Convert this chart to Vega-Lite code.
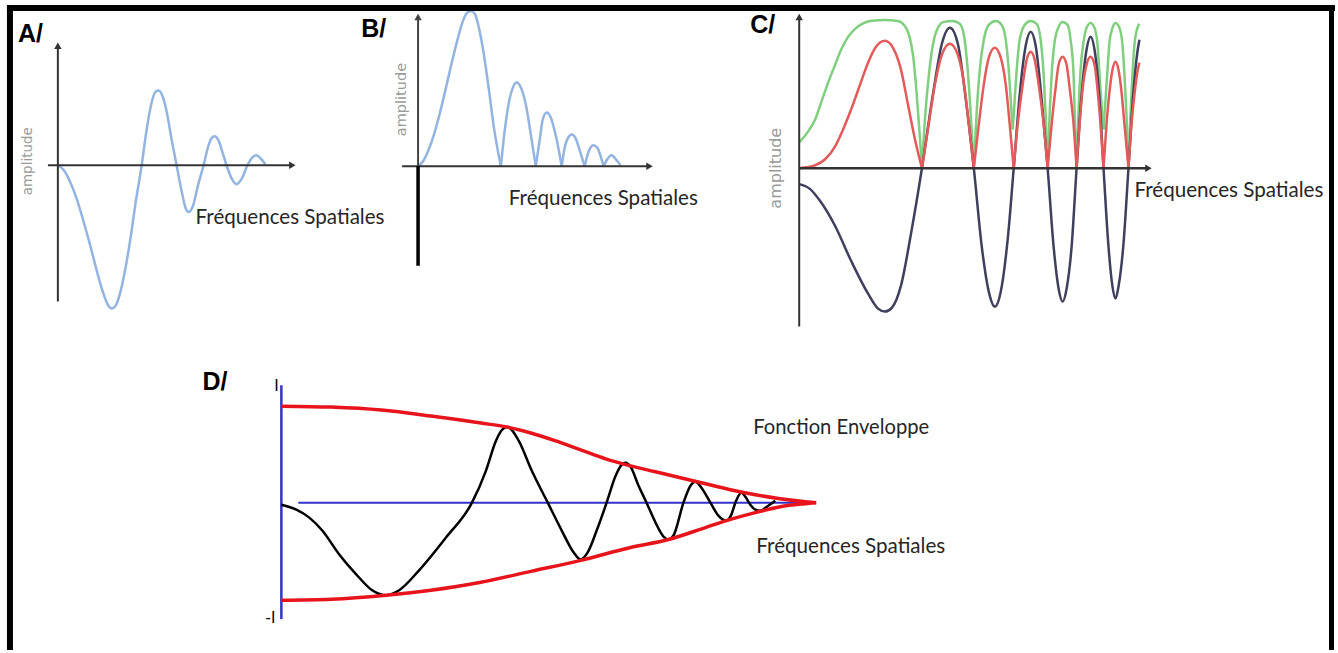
{
  "$schema": "https://vega.github.io/schema/vega-lite/v6.json",
  "width": 1338,
  "height": 653,
  "autosize": {"type": "fit", "contains": "padding"},
  "padding": 0,
  "background": "white",
  "config": {"view": {"stroke": null}},
  "resolve": {"scale": {"x": "independent", "y": "independent"}},
  "layer": [
    {
      "layer": [
        {
          "data": {"values": [
            {"x":0,"y":0},{"x":0.3,"y":-0.05},{"x":0.6,"y":-0.16},{"x":0.95,"y":-0.34},{"x":1.25,"y":-0.54},{"x":1.6,"y":-0.79},{"x":1.95,"y":-1.06},{"x":2.25,"y":-1.27},{"x":2.5,"y":-1.4},{"x":2.7,"y":-1.44},{"x":2.9,"y":-1.41},{"x":3.15,"y":-1.26},{"x":3.4,"y":-1.02},{"x":3.65,"y":-0.72},{"x":3.9,"y":-0.37},{"x":4.2,"y":0},{"x":4.45,"y":0.36},{"x":4.7,"y":0.63},{"x":4.9,"y":0.74},{"x":5.05,"y":0.75},{"x":5.25,"y":0.69},{"x":5.45,"y":0.54},{"x":5.7,"y":0.26},{"x":5.95,"y":0},{"x":6.2,"y":-0.26},{"x":6.4,"y":-0.43},{"x":6.55,"y":-0.47},{"x":6.75,"y":-0.42},{"x":7.0,"y":-0.22},{"x":7.3,"y":0},{"x":7.55,"y":0.2},{"x":7.7,"y":0.27},{"x":7.85,"y":0.29},{"x":8.05,"y":0.25},{"x":8.25,"y":0.13},{"x":8.45,"y":0},{"x":8.7,"y":-0.13},{"x":8.95,"y":-0.19},{"x":9.2,"y":-0.14},{"x":9.5,"y":0},{"x":9.75,"y":0.08},{"x":9.95,"y":0.1},{"x":10.15,"y":0.07},{"x":10.4,"y":0.01}
          ]},
          "mark": {"type": "line", "interpolate": "monotone", "color": "#93b3e0", "strokeWidth": 2.5},
          "encoding": {
            "x": {"field": "x", "type": "quantitative", "scale": {"domain": [-2.9, 64.0]}, "axis": null},
            "y": {"field": "y", "type": "quantitative", "scale": {"domain": [-4.87, 1.66]}, "axis": null}
          }
        },
        {
          "data": {"values": [{}]},
          "mark": {"type": "rule", "color": "#333333", "strokeWidth": 2},
          "encoding": {
            "x": {"datum": -0.5, "type": "quantitative", "scale": {"domain": [-2.9, 64.0]}, "axis": null},
            "x2": {"datum": 11.75},
            "y": {"datum": 0, "type": "quantitative", "scale": {"domain": [-4.87, 1.66]}, "axis": null}
          }
        },
        {
          "data": {"values": [{}]},
          "mark": {"type": "rule", "color": "#333333", "strokeWidth": 2},
          "encoding": {
            "x": {"datum": 0, "type": "quantitative", "scale": {"domain": [-2.9, 64.0]}, "axis": null},
            "y": {"datum": -1.37, "type": "quantitative", "scale": {"domain": [-4.87, 1.66]}, "axis": null},
            "y2": {"datum": 1.2}
          }
        },
        {
          "data": {"values": [{}]},
          "mark": {"type": "point", "shape": "triangle-right", "filled": true, "size": 55, "color": "#333333", "opacity": 1},
          "encoding": {
            "x": {"datum": 11.75, "type": "quantitative", "scale": {"domain": [-2.9, 64.0]}, "axis": null},
            "y": {"datum": 0, "type": "quantitative", "scale": {"domain": [-4.87, 1.66]}, "axis": null}
          }
        },
        {
          "data": {"values": [{}]},
          "mark": {"type": "point", "shape": "triangle-up", "filled": true, "size": 55, "color": "#333333", "opacity": 1},
          "encoding": {
            "x": {"datum": 0, "type": "quantitative", "scale": {"domain": [-2.9, 64.0]}, "axis": null},
            "y": {"datum": 1.2, "type": "quantitative", "scale": {"domain": [-4.87, 1.66]}, "axis": null}
          }
        },
        {
          "data": {"values": [{}]},
          "mark": {"type": "text", "text": "A/", "font": "Liberation Sans", "fontWeight": "bold", "fontSize": 25, "align": "left", "baseline": "alphabetic", "color": "#000000"},
          "encoding": {
            "x": {"datum": -2.0, "type": "quantitative", "scale": {"domain": [-2.9, 64.0]}, "axis": null},
            "y": {"datum": 1.24, "type": "quantitative", "scale": {"domain": [-4.87, 1.66]}, "axis": null}
          }
        },
        {
          "data": {"values": [{}]},
          "mark": {"type": "text", "text": "amplitude", "font": "DejaVu Sans", "fontSize": 13.5, "angle": 270, "align": "center", "baseline": "middle", "color": "#9a9a9a"},
          "encoding": {
            "x": {"datum": -1.5, "type": "quantitative", "scale": {"domain": [-2.9, 64.0]}, "axis": null},
            "y": {"datum": 0.04, "type": "quantitative", "scale": {"domain": [-4.87, 1.66]}, "axis": null}
          }
        },
        {
          "data": {"values": [{}]},
          "mark": {"type": "text", "text": "Fréquences Spatiales", "font": "Lato", "fontSize": 20.6, "align": "left", "baseline": "middle", "color": "#262626"},
          "encoding": {
            "x": {"datum": 6.9, "type": "quantitative", "scale": {"domain": [-2.9, 64.0]}, "axis": null},
            "y": {"datum": -0.53, "type": "quantitative", "scale": {"domain": [-4.87, 1.66]}, "axis": null}
          }
        }
      ]
    },
    {
      "layer": [
        {
          "data": {"values": [
            {"seg":1,"x":0,"y":0},{"seg":1,"x":0.25,"y":0.05},{"seg":1,"x":0.5,"y":0.15},{"seg":1,"x":0.8,"y":0.32},{"seg":1,"x":1.1,"y":0.54},{"seg":1,"x":1.4,"y":0.79},{"seg":1,"x":1.7,"y":1.05},{"seg":1,"x":2.0,"y":1.29},{"seg":1,"x":2.25,"y":1.46},{"seg":1,"x":2.45,"y":1.54},{"seg":1,"x":2.65,"y":1.56},{"seg":1,"x":2.85,"y":1.53},{"seg":1,"x":3.05,"y":1.39},{"seg":1,"x":3.3,"y":1.12},{"seg":1,"x":3.55,"y":0.77},{"seg":1,"x":3.8,"y":0.39},{"seg":1,"x":4.15,"y":0},
            {"seg":2,"x":4.15,"y":0},{"seg":2,"x":4.35,"y":0.37},{"seg":2,"x":4.55,"y":0.64},{"seg":2,"x":4.75,"y":0.79},{"seg":2,"x":4.95,"y":0.84},{"seg":2,"x":5.15,"y":0.79},{"seg":2,"x":5.4,"y":0.62},{"seg":2,"x":5.65,"y":0.32},{"seg":2,"x":5.9,"y":0},
            {"seg":3,"x":5.9,"y":0},{"seg":3,"x":6.1,"y":0.27},{"seg":3,"x":6.25,"y":0.47},{"seg":3,"x":6.45,"y":0.54},{"seg":3,"x":6.65,"y":0.49},{"seg":3,"x":6.9,"y":0.31},{"seg":3,"x":7.2,"y":0},
            {"seg":4,"x":7.2,"y":0},{"seg":4,"x":7.35,"y":0.19},{"seg":4,"x":7.5,"y":0.28},{"seg":4,"x":7.7,"y":0.32},{"seg":4,"x":7.9,"y":0.28},{"seg":4,"x":8.1,"y":0.16},{"seg":4,"x":8.35,"y":0},
            {"seg":5,"x":8.35,"y":0},{"seg":5,"x":8.5,"y":0.12},{"seg":5,"x":8.65,"y":0.19},{"seg":5,"x":8.8,"y":0.21},{"seg":5,"x":9.0,"y":0.18},{"seg":5,"x":9.15,"y":0.1},{"seg":5,"x":9.3,"y":0},
            {"seg":6,"x":9.3,"y":0},{"seg":6,"x":9.45,"y":0.06},{"seg":6,"x":9.7,"y":0.11},{"seg":6,"x":9.95,"y":0.06},{"seg":6,"x":10.15,"y":0.01}
          ]},
          "mark": {"type": "line", "interpolate": "monotone", "color": "#93b3e0", "strokeWidth": 2.5},
          "encoding": {
            "x": {"field": "x", "type": "quantitative", "scale": {"domain": [-20.95, 45.95]}, "axis": null},
            "y": {"field": "y", "type": "quantitative", "scale": {"domain": [-4.86, 1.67]}, "axis": null},
            "detail": {"field": "seg", "type": "nominal"}
          }
        },
        {
          "data": {"values": [{}]},
          "mark": {"type": "rule", "color": "#333333", "strokeWidth": 2},
          "encoding": {
            "x": {"datum": -0.8, "type": "quantitative", "scale": {"domain": [-20.95, 45.95]}, "axis": null},
            "x2": {"datum": 11.6},
            "y": {"datum": 0, "type": "quantitative", "scale": {"domain": [-4.86, 1.67]}, "axis": null}
          }
        },
        {
          "data": {"values": [{}]},
          "mark": {"type": "rule", "color": "#444444", "strokeWidth": 2},
          "encoding": {
            "x": {"datum": 0, "type": "quantitative", "scale": {"domain": [-20.95, 45.95]}, "axis": null},
            "y": {"datum": 0, "type": "quantitative", "scale": {"domain": [-4.86, 1.67]}, "axis": null},
            "y2": {"datum": 1.5}
          }
        },
        {
          "data": {"values": [{}]},
          "mark": {"type": "rule", "color": "#000000", "strokeWidth": 3.5},
          "encoding": {
            "x": {"datum": 0, "type": "quantitative", "scale": {"domain": [-20.95, 45.95]}, "axis": null},
            "y": {"datum": -1.0, "type": "quantitative", "scale": {"domain": [-4.86, 1.67]}, "axis": null},
            "y2": {"datum": 0}
          }
        },
        {
          "data": {"values": [{}]},
          "mark": {"type": "point", "shape": "triangle-right", "filled": true, "size": 55, "color": "#333333", "opacity": 1},
          "encoding": {
            "x": {"datum": 11.6, "type": "quantitative", "scale": {"domain": [-20.95, 45.95]}, "axis": null},
            "y": {"datum": 0, "type": "quantitative", "scale": {"domain": [-4.86, 1.67]}, "axis": null}
          }
        },
        {
          "data": {"values": [{}]},
          "mark": {"type": "point", "shape": "triangle-up", "filled": true, "size": 55, "color": "#444444", "opacity": 1},
          "encoding": {
            "x": {"datum": 0, "type": "quantitative", "scale": {"domain": [-20.95, 45.95]}, "axis": null},
            "y": {"datum": 1.5, "type": "quantitative", "scale": {"domain": [-4.86, 1.67]}, "axis": null}
          }
        },
        {
          "data": {"values": [{}]},
          "mark": {"type": "text", "text": "B/", "font": "Liberation Sans", "fontWeight": "bold", "fontSize": 25, "align": "left", "baseline": "alphabetic", "color": "#000000"},
          "encoding": {
            "x": {"datum": -2.85, "type": "quantitative", "scale": {"domain": [-20.95, 45.95]}, "axis": null},
            "y": {"datum": 1.3, "type": "quantitative", "scale": {"domain": [-4.86, 1.67]}, "axis": null}
          }
        },
        {
          "data": {"values": [{}]},
          "mark": {"type": "text", "text": "amplitude", "font": "DejaVu Sans", "fontSize": 14.5, "angle": 270, "align": "center", "baseline": "middle", "color": "#9a9a9a"},
          "encoding": {
            "x": {"datum": -0.8, "type": "quantitative", "scale": {"domain": [-20.95, 45.95]}, "axis": null},
            "y": {"datum": 0.67, "type": "quantitative", "scale": {"domain": [-4.86, 1.67]}, "axis": null}
          }
        },
        {
          "data": {"values": [{}]},
          "mark": {"type": "text", "text": "Fréquences Spatiales", "font": "Lato", "fontSize": 20.6, "align": "left", "baseline": "middle", "color": "#262626"},
          "encoding": {
            "x": {"datum": 4.55, "type": "quantitative", "scale": {"domain": [-20.95, 45.95]}, "axis": null},
            "y": {"datum": -0.33, "type": "quantitative", "scale": {"domain": [-4.86, 1.67]}, "axis": null}
          }
        }
      ]
    },
    {
      "layer": [
        {
          "data": {"values": [
            {"seg":1,"x":0,"y":0.26},{"seg":1,"x":0.45,"y":0.37},{"seg":1,"x":0.8,"y":0.49},{"seg":1,"x":1.15,"y":0.69},{"seg":1,"x":1.45,"y":0.86},{"seg":1,"x":1.8,"y":1.04},{"seg":1,"x":2.1,"y":1.19},{"seg":1,"x":2.45,"y":1.32},{"seg":1,"x":2.8,"y":1.4},{"seg":1,"x":3.15,"y":1.45},{"seg":1,"x":3.55,"y":1.48},{"seg":1,"x":4.3,"y":1.49},{"seg":1,"x":4.95,"y":1.48},{"seg":1,"x":5.25,"y":1.44},{"seg":1,"x":5.5,"y":1.34},{"seg":1,"x":5.7,"y":1.14},{"seg":1,"x":5.85,"y":0.84},{"seg":1,"x":6.0,"y":0.44},{"seg":1,"x":6.15,"y":0.02},
            {"seg":2,"x":6.15,"y":0.02},{"seg":2,"x":6.3,"y":0.49},{"seg":2,"x":6.5,"y":0.94},{"seg":2,"x":6.7,"y":1.24},{"seg":2,"x":6.95,"y":1.41},{"seg":2,"x":7.25,"y":1.47},{"seg":2,"x":7.7,"y":1.48},{"seg":2,"x":8.05,"y":1.45},{"seg":2,"x":8.25,"y":1.34},{"seg":2,"x":8.4,"y":1.09},{"seg":2,"x":8.55,"y":0.69},{"seg":2,"x":8.75,"y":0.02},
            {"seg":3,"x":8.75,"y":0.02},{"seg":3,"x":8.9,"y":0.59},{"seg":3,"x":9.05,"y":0.99},{"seg":3,"x":9.25,"y":1.29},{"seg":3,"x":9.5,"y":1.44},{"seg":3,"x":9.85,"y":1.48},{"seg":3,"x":10.15,"y":1.44},{"seg":3,"x":10.35,"y":1.29},{"seg":3,"x":10.5,"y":0.99},{"seg":3,"x":10.6,"y":0.69},{"seg":3,"x":10.7,"y":0.39},
            {"seg":4,"x":10.7,"y":0.39},{"seg":4,"x":10.8,"y":0.69},{"seg":4,"x":10.9,"y":0.99},{"seg":4,"x":11.05,"y":1.29},{"seg":4,"x":11.3,"y":1.44},{"seg":4,"x":11.6,"y":1.48},{"seg":4,"x":11.9,"y":1.45},{"seg":4,"x":12.1,"y":1.29},{"seg":4,"x":12.25,"y":0.94},{"seg":4,"x":12.35,"y":0.54},{"seg":4,"x":12.45,"y":0.02},
            {"seg":5,"x":12.45,"y":0.02},{"seg":5,"x":12.55,"y":0.54},{"seg":5,"x":12.65,"y":0.94},{"seg":5,"x":12.8,"y":1.27},{"seg":5,"x":13.0,"y":1.42},{"seg":5,"x":13.2,"y":1.47},{"seg":5,"x":13.45,"y":1.44},{"seg":5,"x":13.6,"y":1.29},{"seg":5,"x":13.75,"y":0.94},{"seg":5,"x":13.8,"y":0.59},{"seg":5,"x":13.9,"y":0.02},
            {"seg":6,"x":13.9,"y":0.02},{"seg":6,"x":14.0,"y":0.59},{"seg":6,"x":14.1,"y":0.99},{"seg":6,"x":14.25,"y":1.27},{"seg":6,"x":14.4,"y":1.41},{"seg":6,"x":14.6,"y":1.46},{"seg":6,"x":14.8,"y":1.41},{"seg":6,"x":14.95,"y":1.24},{"seg":6,"x":15.05,"y":0.94},{"seg":6,"x":15.15,"y":0.64},{"seg":6,"x":15.25,"y":0.39},
            {"seg":7,"x":15.25,"y":0.39},{"seg":7,"x":15.35,"y":0.69},{"seg":7,"x":15.45,"y":0.99},{"seg":7,"x":15.55,"y":1.27},{"seg":7,"x":15.7,"y":1.41},{"seg":7,"x":15.85,"y":1.46},{"seg":7,"x":16.05,"y":1.41},{"seg":7,"x":16.2,"y":1.24},{"seg":7,"x":16.3,"y":0.94},{"seg":7,"x":16.4,"y":0.54},{"seg":7,"x":16.5,"y":0.02},
            {"seg":8,"x":16.5,"y":0.02},{"seg":8,"x":16.6,"y":0.54},{"seg":8,"x":16.7,"y":0.94},{"seg":8,"x":16.8,"y":1.24},{"seg":8,"x":16.95,"y":1.41},{"seg":8,"x":17.05,"y":1.45}
          ]},
          "mark": {"type": "line", "interpolate": "monotone", "color": "#7fcf7f", "strokeWidth": 2.5},
          "encoding": {
            "x": {"field": "x", "type": "quantitative", "scale": {"domain": [-40.05, 26.85]}, "axis": null},
            "y": {"field": "y", "type": "quantitative", "scale": {"domain": [-4.84, 1.69]}, "axis": null},
            "detail": {"field": "seg", "type": "nominal"}
          }
        },
        {
          "data": {"values": [
            {"x":0,"y":-0.16},{"x":0.55,"y":-0.21},{"x":1.05,"y":-0.33},{"x":1.8,"y":-0.58},{"x":2.6,"y":-0.93},{"x":3.45,"y":-1.26},{"x":3.95,"y":-1.41},{"x":4.3,"y":-1.44},{"x":4.65,"y":-1.4},{"x":5.1,"y":-1.18},{"x":5.6,"y":-0.66},{"x":6.15,"y":0},{"x":6.7,"y":0.74},{"x":7.15,"y":1.25},{"x":7.55,"y":1.41},{"x":7.95,"y":1.25},{"x":8.35,"y":0.69},{"x":8.75,"y":0},{"x":9.15,"y":-0.79},{"x":9.5,"y":-1.24},{"x":9.8,"y":-1.39},{"x":10.1,"y":-1.24},{"x":10.45,"y":-0.71},{"x":10.75,"y":0},{"x":11.05,"y":0.74},{"x":11.35,"y":1.23},{"x":11.6,"y":1.37},{"x":11.85,"y":1.23},{"x":12.15,"y":0.69},{"x":12.45,"y":0},{"x":12.75,"y":-0.79},{"x":13.0,"y":-1.21},{"x":13.2,"y":-1.34},{"x":13.4,"y":-1.21},{"x":13.65,"y":-0.79},{"x":13.9,"y":0},{"x":14.15,"y":0.74},{"x":14.4,"y":1.19},{"x":14.6,"y":1.32},{"x":14.8,"y":1.19},{"x":15.05,"y":0.69},{"x":15.25,"y":0},{"x":15.5,"y":-0.79},{"x":15.7,"y":-1.19},{"x":15.85,"y":-1.31},{"x":16.0,"y":-1.19},{"x":16.25,"y":-0.76},{"x":16.5,"y":0},{"x":16.75,"y":0.77},{"x":16.95,"y":1.17},{"x":17.05,"y":1.29}
          ]},
          "mark": {"type": "line", "interpolate": "monotone", "color": "#3f3f5e", "strokeWidth": 2.5},
          "encoding": {
            "x": {"field": "x", "type": "quantitative", "scale": {"domain": [-40.05, 26.85]}, "axis": null},
            "y": {"field": "y", "type": "quantitative", "scale": {"domain": [-4.84, 1.69]}, "axis": null}
          }
        },
        {
          "data": {"values": [
            {"seg":1,"x":0,"y":0},{"seg":1,"x":0.8,"y":0.03},{"seg":1,"x":1.3,"y":0.09},{"seg":1,"x":1.8,"y":0.22},{"seg":1,"x":2.2,"y":0.39},{"seg":1,"x":2.6,"y":0.59},{"seg":1,"x":3.05,"y":0.84},{"seg":1,"x":3.45,"y":1.06},{"seg":1,"x":3.85,"y":1.22},{"seg":1,"x":4.3,"y":1.28},{"seg":1,"x":4.7,"y":1.21},{"seg":1,"x":5.1,"y":0.99},{"seg":1,"x":5.45,"y":0.64},{"seg":1,"x":5.8,"y":0.29},{"seg":1,"x":6.15,"y":0},
            {"seg":2,"x":6.15,"y":0},{"seg":2,"x":6.45,"y":0.39},{"seg":2,"x":6.8,"y":0.84},{"seg":2,"x":7.15,"y":1.14},{"seg":2,"x":7.55,"y":1.25},{"seg":2,"x":7.95,"y":1.14},{"seg":2,"x":8.3,"y":0.79},{"seg":2,"x":8.5,"y":0.44},{"seg":2,"x":8.75,"y":0},
            {"seg":3,"x":8.75,"y":0},{"seg":3,"x":9.0,"y":0.44},{"seg":3,"x":9.25,"y":0.84},{"seg":3,"x":9.5,"y":1.11},{"seg":3,"x":9.8,"y":1.21},{"seg":3,"x":10.1,"y":1.11},{"seg":3,"x":10.35,"y":0.84},{"seg":3,"x":10.55,"y":0.44},{"seg":3,"x":10.75,"y":0},
            {"seg":4,"x":10.75,"y":0},{"seg":4,"x":10.95,"y":0.44},{"seg":4,"x":11.2,"y":0.84},{"seg":4,"x":11.4,"y":1.09},{"seg":4,"x":11.6,"y":1.17},{"seg":4,"x":11.8,"y":1.09},{"seg":4,"x":12.0,"y":0.84},{"seg":4,"x":12.25,"y":0.44},{"seg":4,"x":12.45,"y":0},
            {"seg":5,"x":12.45,"y":0},{"seg":5,"x":12.65,"y":0.44},{"seg":5,"x":12.85,"y":0.81},{"seg":5,"x":13.0,"y":1.04},{"seg":5,"x":13.2,"y":1.12},{"seg":5,"x":13.4,"y":1.04},{"seg":5,"x":13.55,"y":0.81},{"seg":5,"x":13.75,"y":0.44},{"seg":5,"x":13.9,"y":0},
            {"seg":6,"x":13.9,"y":0},{"seg":6,"x":14.05,"y":0.44},{"seg":6,"x":14.2,"y":0.79},{"seg":6,"x":14.4,"y":1.04},{"seg":6,"x":14.6,"y":1.12},{"seg":6,"x":14.8,"y":1.04},{"seg":6,"x":14.95,"y":0.79},{"seg":6,"x":15.1,"y":0.44},{"seg":6,"x":15.25,"y":0},
            {"seg":7,"x":15.25,"y":0},{"seg":7,"x":15.4,"y":0.44},{"seg":7,"x":15.55,"y":0.77},{"seg":7,"x":15.7,"y":0.99},{"seg":7,"x":15.85,"y":1.07},{"seg":7,"x":16.0,"y":0.99},{"seg":7,"x":16.15,"y":0.77},{"seg":7,"x":16.3,"y":0.44},{"seg":7,"x":16.5,"y":0},
            {"seg":8,"x":16.5,"y":0},{"seg":8,"x":16.65,"y":0.44},{"seg":8,"x":16.8,"y":0.74},{"seg":8,"x":16.95,"y":0.97},{"seg":8,"x":17.05,"y":1.06}
          ]},
          "mark": {"type": "line", "interpolate": "monotone", "color": "#e25a5a", "strokeWidth": 2.5},
          "encoding": {
            "x": {"field": "x", "type": "quantitative", "scale": {"domain": [-40.05, 26.85]}, "axis": null},
            "y": {"field": "y", "type": "quantitative", "scale": {"domain": [-4.84, 1.69]}, "axis": null},
            "detail": {"field": "seg", "type": "nominal"}
          }
        },
        {
          "data": {"values": [{}]},
          "mark": {"type": "rule", "color": "#333333", "strokeWidth": 2.5},
          "encoding": {
            "x": {"datum": 0, "type": "quantitative", "scale": {"domain": [-40.05, 26.85]}, "axis": null},
            "x2": {"datum": 17.5},
            "y": {"datum": 0, "type": "quantitative", "scale": {"domain": [-4.84, 1.69]}, "axis": null}
          }
        },
        {
          "data": {"values": [{}]},
          "mark": {"type": "rule", "color": "#333333", "strokeWidth": 2},
          "encoding": {
            "x": {"datum": 0, "type": "quantitative", "scale": {"domain": [-40.05, 26.85]}, "axis": null},
            "y": {"datum": -1.59, "type": "quantitative", "scale": {"domain": [-4.84, 1.69]}, "axis": null},
            "y2": {"datum": 1.52}
          }
        },
        {
          "data": {"values": [{}]},
          "mark": {"type": "point", "shape": "triangle-right", "filled": true, "size": 55, "color": "#333333", "opacity": 1},
          "encoding": {
            "x": {"datum": 17.5, "type": "quantitative", "scale": {"domain": [-40.05, 26.85]}, "axis": null},
            "y": {"datum": 0, "type": "quantitative", "scale": {"domain": [-4.84, 1.69]}, "axis": null}
          }
        },
        {
          "data": {"values": [{}]},
          "mark": {"type": "point", "shape": "triangle-up", "filled": true, "size": 55, "color": "#333333", "opacity": 1},
          "encoding": {
            "x": {"datum": 0, "type": "quantitative", "scale": {"domain": [-40.05, 26.85]}, "axis": null},
            "y": {"datum": 1.52, "type": "quantitative", "scale": {"domain": [-4.84, 1.69]}, "axis": null}
          }
        },
        {
          "data": {"values": [{}]},
          "mark": {"type": "text", "text": "C/", "font": "Liberation Sans", "fontWeight": "bold", "fontSize": 25, "align": "left", "baseline": "alphabetic", "color": "#000000"},
          "encoding": {
            "x": {"datum": -2.45, "type": "quantitative", "scale": {"domain": [-40.05, 26.85]}, "axis": null},
            "y": {"datum": 1.36, "type": "quantitative", "scale": {"domain": [-4.84, 1.69]}, "axis": null}
          }
        },
        {
          "data": {"values": [{}]},
          "mark": {"type": "text", "text": "amplitude", "font": "DejaVu Sans", "fontSize": 16, "angle": 270, "align": "center", "baseline": "middle", "color": "#9a9a9a"},
          "encoding": {
            "x": {"datum": -1.15, "type": "quantitative", "scale": {"domain": [-40.05, 26.85]}, "axis": null},
            "y": {"datum": 0, "type": "quantitative", "scale": {"domain": [-4.84, 1.69]}, "axis": null}
          }
        },
        {
          "data": {"values": [{}]},
          "mark": {"type": "text", "text": "Fréquences Spatiales", "font": "Lato", "fontSize": 20.6, "align": "left", "baseline": "middle", "color": "#262626"},
          "encoding": {
            "x": {"datum": 16.8, "type": "quantitative", "scale": {"domain": [-40.05, 26.85]}, "axis": null},
            "y": {"datum": -0.23, "type": "quantitative", "scale": {"domain": [-4.84, 1.69]}, "axis": null}
          }
        }
      ]
    },
    {
      "layer": [
        {
          "data": {"values": [{}]},
          "mark": {"type": "rule", "color": "#3333cc", "strokeWidth": 2},
          "encoding": {
            "x": {"datum": 0.34, "type": "quantitative", "scale": {"domain": [-5.64, 21.12]}, "axis": null},
            "x2": {"datum": 10.62},
            "y": {"datum": 0, "type": "quantitative", "scale": {"domain": [-1.48, 5.05]}, "axis": null}
          }
        },
        {
          "data": {"values": [{}]},
          "mark": {"type": "rule", "color": "#3333cc", "strokeWidth": 2.5},
          "encoding": {
            "x": {"datum": 0, "type": "quantitative", "scale": {"domain": [-5.64, 21.12]}, "axis": null},
            "y": {"datum": -1.17, "type": "quantitative", "scale": {"domain": [-1.48, 5.05]}, "axis": null},
            "y2": {"datum": 1.18}
          }
        },
        {
          "data": {"values": [
            {"x":0,"y":-0.02},{"x":0.3,"y":-0.07},{"x":0.56,"y":-0.15},{"x":0.82,"y":-0.28},{"x":1.16,"y":-0.52},{"x":1.5,"y":-0.72},{"x":1.82,"y":-0.88},{"x":2.1,"y":-0.93},{"x":2.36,"y":-0.88},{"x":2.76,"y":-0.68},{"x":3.3,"y":-0.35},{"x":3.82,"y":0},{"x":4.1,"y":0.32},{"x":4.3,"y":0.62},{"x":4.42,"y":0.73},{"x":4.52,"y":0.76},{"x":4.62,"y":0.73},{"x":4.76,"y":0.62},{"x":5.02,"y":0.32},{"x":5.34,"y":0},{"x":5.62,"y":-0.28},{"x":5.86,"y":-0.5},{"x":6.0,"y":-0.57},{"x":6.14,"y":-0.5},{"x":6.32,"y":-0.28},{"x":6.52,"y":0},{"x":6.7,"y":0.27},{"x":6.82,"y":0.38},{"x":6.9,"y":0.4},{"x":7.0,"y":0.36},{"x":7.16,"y":0.17},{"x":7.32,"y":0},{"x":7.5,"y":-0.2},{"x":7.66,"y":-0.34},{"x":7.76,"y":-0.37},{"x":7.86,"y":-0.33},{"x":8.06,"y":0},{"x":8.2,"y":0.17},{"x":8.3,"y":0.21},{"x":8.42,"y":0.15},{"x":8.6,"y":0},{"x":8.76,"y":-0.13},{"x":8.92,"y":-0.18},{"x":9.02,"y":-0.12},{"x":9.1,"y":0},{"x":9.22,"y":0.1},{"x":9.3,"y":0.06},{"x":9.4,"y":-0.02},{"x":9.5,"y":-0.07},{"x":9.6,"y":-0.08},{"x":9.76,"y":-0.03},{"x":9.9,"y":0.02}
          ]},
          "mark": {"type": "line", "interpolate": "monotone", "color": "#000000", "strokeWidth": 2.5},
          "encoding": {
            "x": {"field": "x", "type": "quantitative", "scale": {"domain": [-5.64, 21.12]}, "axis": null},
            "y": {"field": "y", "type": "quantitative", "scale": {"domain": [-1.48, 5.05]}, "axis": null}
          }
        },
        {
          "data": {"values": [
            {"side":"haut","x":0,"y":0.97},{"side":"haut","x":1.0,"y":0.96},{"side":"haut","x":2.0,"y":0.93},{"side":"haut","x":3.0,"y":0.87},{"side":"haut","x":4.0,"y":0.8},{"side":"haut","x":4.52,"y":0.76},{"side":"haut","x":5.0,"y":0.7},{"side":"haut","x":5.5,"y":0.62},{"side":"haut","x":6.0,"y":0.53},{"side":"haut","x":6.5,"y":0.44},{"side":"haut","x":7.0,"y":0.37},{"side":"haut","x":7.5,"y":0.31},{"side":"haut","x":8.0,"y":0.25},{"side":"haut","x":8.5,"y":0.19},{"side":"haut","x":9.0,"y":0.13},{"side":"haut","x":9.5,"y":0.08},{"side":"haut","x":10.0,"y":0.04},{"side":"haut","x":10.5,"y":0.01},{"side":"haut","x":10.72,"y":0},
            {"side":"bas","x":0,"y":-0.98},{"side":"bas","x":1.0,"y":-0.97},{"side":"bas","x":2.1,"y":-0.93},{"side":"bas","x":3.0,"y":-0.88},{"side":"bas","x":4.0,"y":-0.8},{"side":"bas","x":5.0,"y":-0.69},{"side":"bas","x":6.0,"y":-0.58},{"side":"bas","x":7.0,"y":-0.45},{"side":"bas","x":7.76,"y":-0.37},{"side":"bas","x":8.5,"y":-0.25},{"side":"bas","x":8.92,"y":-0.18},{"side":"bas","x":9.5,"y":-0.1},{"side":"bas","x":10.0,"y":-0.04},{"side":"bas","x":10.5,"y":-0.01},{"side":"bas","x":10.72,"y":0}
          ]},
          "mark": {"type": "line", "interpolate": "monotone", "color": "#e8141c", "strokeWidth": 3.5},
          "encoding": {
            "x": {"field": "x", "type": "quantitative", "scale": {"domain": [-5.64, 21.12]}, "axis": null},
            "y": {"field": "y", "type": "quantitative", "scale": {"domain": [-1.48, 5.05]}, "axis": null},
            "detail": {"field": "side", "type": "nominal"}
          }
        },
        {
          "data": {"values": [{}]},
          "mark": {"type": "text", "text": "D/", "font": "Liberation Sans", "fontWeight": "bold", "fontSize": 25, "align": "left", "baseline": "alphabetic", "color": "#000000"},
          "encoding": {
            "x": {"datum": -1.58, "type": "quantitative", "scale": {"domain": [-5.64, 21.12]}, "axis": null},
            "y": {"datum": 1.13, "type": "quantitative", "scale": {"domain": [-1.48, 5.05]}, "axis": null}
          }
        },
        {
          "data": {"values": [{}]},
          "mark": {"type": "text", "text": "I", "font": "Liberation Sans", "fontSize": 16, "align": "center", "baseline": "alphabetic", "color": "#000000"},
          "encoding": {
            "x": {"datum": -0.1, "type": "quantitative", "scale": {"domain": [-5.64, 21.12]}, "axis": null},
            "y": {"datum": 1.12, "type": "quantitative", "scale": {"domain": [-1.48, 5.05]}, "axis": null}
          }
        },
        {
          "data": {"values": [{}]},
          "mark": {"type": "text", "text": "-I", "font": "Liberation Sans", "fontSize": 16, "align": "right", "baseline": "alphabetic", "color": "#000000"},
          "encoding": {
            "x": {"datum": -0.12, "type": "quantitative", "scale": {"domain": [-5.64, 21.12]}, "axis": null},
            "y": {"datum": -1.21, "type": "quantitative", "scale": {"domain": [-1.48, 5.05]}, "axis": null}
          }
        },
        {
          "data": {"values": [{}]},
          "mark": {"type": "text", "text": "Fonction Enveloppe", "font": "Lato", "fontSize": 20.2, "align": "left", "baseline": "middle", "color": "#262626"},
          "encoding": {
            "x": {"datum": 9.46, "type": "quantitative", "scale": {"domain": [-5.64, 21.12]}, "axis": null},
            "y": {"datum": 0.75, "type": "quantitative", "scale": {"domain": [-1.48, 5.05]}, "axis": null}
          }
        },
        {
          "data": {"values": [{}]},
          "mark": {"type": "text", "text": "Fréquences Spatiales", "font": "Lato", "fontSize": 20.6, "align": "left", "baseline": "middle", "color": "#262626"},
          "encoding": {
            "x": {"datum": 9.52, "type": "quantitative", "scale": {"domain": [-5.64, 21.12]}, "axis": null},
            "y": {"datum": -0.45, "type": "quantitative", "scale": {"domain": [-1.48, 5.05]}, "axis": null}
          }
        }
      ]
    },
    {
      "layer": [
        {
          "data": {"values": [{}]},
          "mark": {"type": "rule", "color": "#000000", "strokeWidth": 6},
          "encoding": {
            "x": {"datum": 0.0052, "type": "quantitative", "scale": {"domain": [0, 1]}, "axis": null},
            "x2": {"datum": 1},
            "y": {"datum": 0.98775, "type": "quantitative", "scale": {"domain": [0, 1]}, "axis": null}
          }
        },
        {
          "data": {"values": [{}]},
          "mark": {"type": "rule", "color": "#000000", "strokeWidth": 6},
          "encoding": {
            "x": {"datum": 0.00747, "type": "quantitative", "scale": {"domain": [0, 1]}, "axis": null},
            "y": {"datum": 0, "type": "quantitative", "scale": {"domain": [0, 1]}, "axis": null},
            "y2": {"datum": 0.99234}
          }
        },
        {
          "data": {"values": [{}]},
          "mark": {"type": "rule", "color": "#000000", "strokeWidth": 5},
          "encoding": {
            "x": {"datum": 0.99738, "type": "quantitative", "scale": {"domain": [0, 1]}, "axis": null},
            "y": {"datum": 0, "type": "quantitative", "scale": {"domain": [0, 1]}, "axis": null},
            "y2": {"datum": 0.99234}
          }
        }
      ]
    }
  ]
}
